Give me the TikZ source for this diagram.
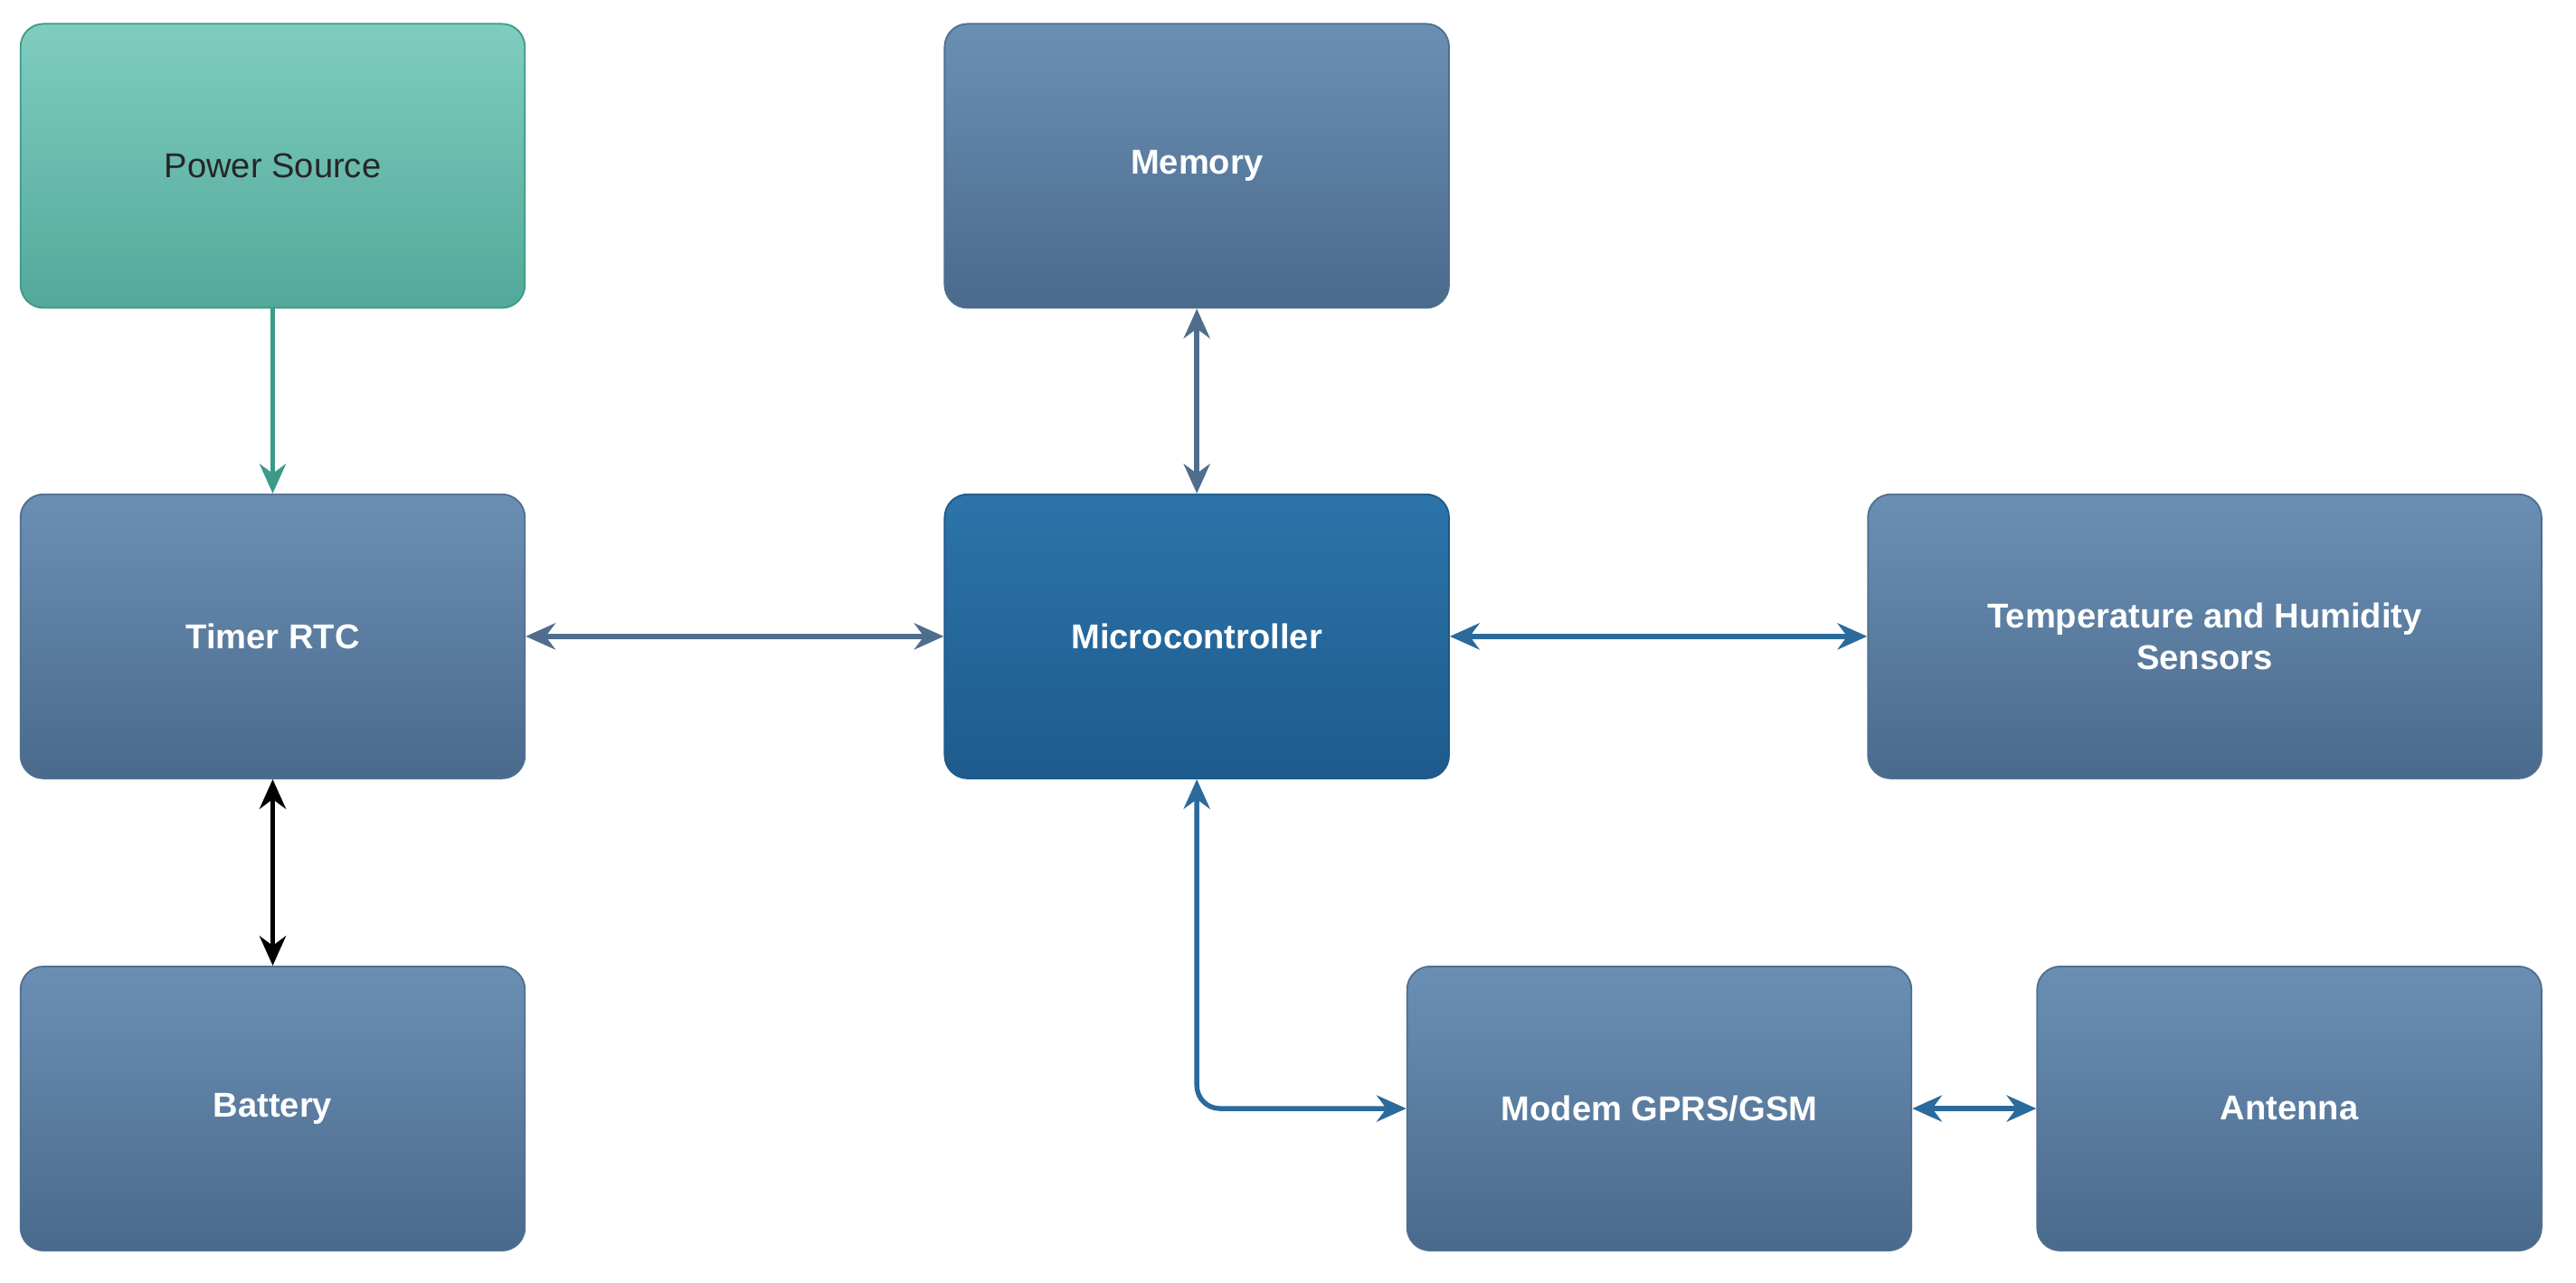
\documentclass[tikz,border=0pt]{standalone}
\usepackage{fontspec}
\setmainfont{Liberation Sans}
\usetikzlibrary{arrows.meta}
\definecolor{bt}{HTML}{6B8FB4}
\definecolor{bb}{HTML}{4A6A8C}
\definecolor{bd}{HTML}{4F6F90}
\definecolor{mt}{HTML}{2C74AA}
\definecolor{mb}{HTML}{1E5B8C}
\definecolor{tt}{HTML}{7FCDBF}
\definecolor{tb}{HTML}{52A999}
\definecolor{td}{HTML}{3C9A8A}
\definecolor{la}{HTML}{4F6E8E}
\definecolor{lb}{HTML}{2A6A9C}
\begin{document}
\begin{tikzpicture}[x=1pt,y=-1pt,
 box/.style={rounded corners=14pt,draw=bd,line width=1pt,top color=bt,bottom color=bb,text=white,font=\fontsize{21}{25}\selectfont\bfseries,align=center,minimum width=307pt,minimum height=173pt,inner sep=0pt},
 arr/.style={line width=3pt,-{Stealth[length=18pt,width=16pt]}},
 darr/.style={line width=3pt,{Stealth[length=18pt,width=16pt]}-{Stealth[length=18pt,width=16pt]}}]
\useasboundingbox (0,0) rectangle (1568,781);
\fill[white] (0,0) rectangle (1568,781);
\node[box,top color=tt,bottom color=tb,draw=td,text=black!85,font=\fontsize{21}{25}\selectfont] (ps) at (166,101) {Power Source};
\node[box] (mem) at (728.5,101) {Memory};
\node[box] (rtc) at (166,387.5) {Timer RTC};
\node[box,top color=mt,bottom color=mb,draw=mb] (mc) at (728.5,387.5) {Microcontroller};
\node[box,minimum width=410pt] (th) at (1342,387.5) {Temperature and Humidity\\Sensors};
\node[box] (bat) at (166,675) {Battery};
\node[box] (mod) at (1010,675) {Modem GPRS/GSM};
\node[box] (ant) at (1393.5,675) {Antenna};
\draw[arr,td] (ps) -- (rtc);
\draw[darr,la] (mem) -- (mc);
\draw[darr,la] (rtc) -- (mc);
\draw[darr,lb] (mc) -- (th);
\draw[darr,black] (rtc) -- (bat);
\draw[darr,lb,rounded corners=14pt] (mc.south) -- (728.5,675) -- (mod.west);
\draw[darr,lb] (mod) -- (ant);
\end{tikzpicture}
\end{document}
